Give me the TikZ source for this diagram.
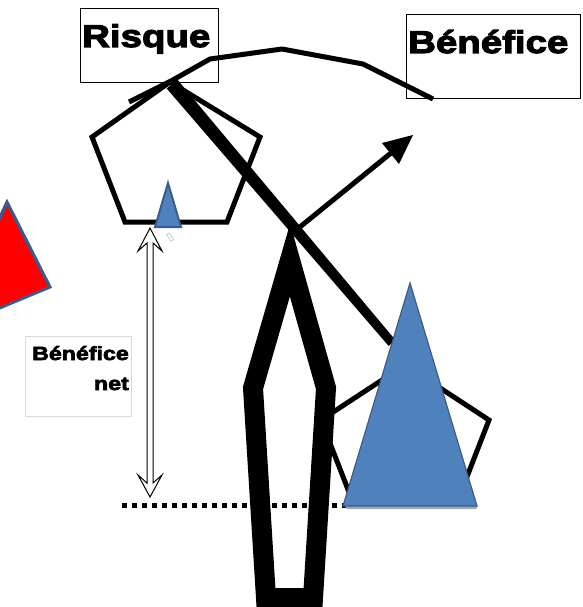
\documentclass[tikz,border=0pt]{standalone}
\usepackage{fontspec}
\newfontfamily\heavyfont[FakeStretch=1.22, BoldFeatures={FakeBold=3.5}]{Liberation Sans}
\definecolor{accblue}{HTML}{4F81BD}
\definecolor{accedge}{HTML}{385D8A}
\definecolor{boxgray}{HTML}{D9D9D9}
\tikzset{
  labelbox/.style={draw=black, line width=0.8pt},
  bigtext/.style={font=\heavyfont\bfseries\fontsize{31.5}{36}\selectfont, inner sep=0pt},
  smalltext/.style={font=\heavyfont\bfseries\fontsize{19}{22}\selectfont, inner sep=0pt},
  thickline/.style={line width=5pt, line join=miter},
  bluetri/.style={fill=accblue, draw=accedge, line width=1.2pt, line join=miter},
}
\begin{document}
\begin{tikzpicture}[x=1pt,y=-1pt]
\useasboundingbox (0,0) rectangle (582,607);
\clip (0,0) rectangle (582,607);
% label boxes
\draw[labelbox] (80,8) rectangle (218,82);
\node[bigtext, anchor=base west] (risque) at (82,47) {Risque};
\draw[labelbox] (406,14) rectangle (580,98);
\node[bigtext, anchor=base west] (benefice) at (408,53) {Bénéfice};
% top beam polyline
\draw[thickline, line join=round] (129,102) -- (171,81) -- (210,59) -- (282,49) -- (363,64) -- (433,99);
% left pentagon
\draw[thickline] (170,82) -- (92,137) -- (125,222) -- (227,222) -- (260,137) -- cycle;
% thick tapered diagonal
\fill (177.3,79.5) -- (166.7,88.5) -- (388.6,345.9) -- (395.4,340.1) -- cycle;
% arrow to upper right
\draw[line width=5pt] (290,235) -- (391,153);
\fill (413,135) -- (382,143) -- (399,164) -- cycle;
% dotted baseline
\draw[line width=5pt, dash pattern=on 5pt off 5pt] (122,505) -- (350,505);
% right pentagon
\draw[thickline] (405,365) -- (321,420) -- (354,505) -- (456,505) -- (489,420) -- cycle;
% pencil shape
\draw[line width=20pt, line join=miter, miter limit=10] (290,260) -- (253,388) -- (266,598) -- (313,598) -- (326,388) -- cycle;
% big blue triangle
\fill[black!35] (345,506) -- (478,506) -- (476,509) -- (347,509) -- cycle;
\draw[bluetri] (410,283) -- (477,506) -- (343,506) -- cycle;
% small blue triangle
\draw[bluetri, line width=2pt] (168,183) -- (181,227) -- (155,227) -- cycle;
% red triangle
\draw[fill=red, draw=accedge, line width=3pt, line join=miter] (7,202) -- (50,287) -- (-53,330) -- cycle;
% double hollow arrow
\draw[fill=white, line width=1pt, line join=miter] (150,228) -- (162,251) -- (153,243) -- (153,483) -- (162,475) -- (150,497) -- (138,475) -- (147,483) -- (147,243) -- (138,251) -- cycle;
% tiny rectangle
\draw[black!30, line width=0.5pt, rotate around={35:(170,237)}] (168.5,233) rectangle (171.5,241);
% net benefit label
\draw[boxgray, line width=0.8pt] (25,336) rectangle (131,416);
\node[smalltext, anchor=base east] (bn1) at (129,360) {Bénéfice};
\node[smalltext, anchor=base east] (bn2) at (129,390) {net};
\end{tikzpicture}
\end{document}
